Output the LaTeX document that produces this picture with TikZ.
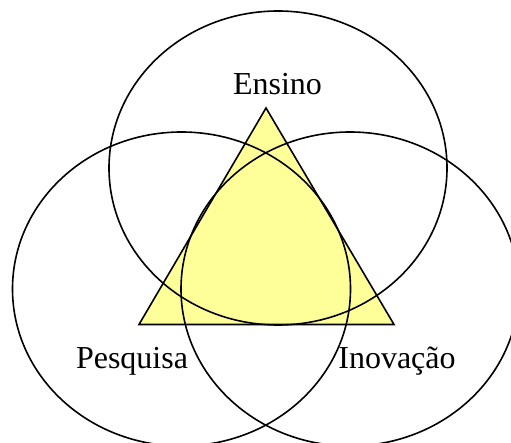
\documentclass[tikz,border=0pt]{standalone}
\usepackage{fontspec}
\setmainfont{Liberation Serif}
\definecolor{triyellow}{RGB}{255,255,153}
\begin{document}
\begin{tikzpicture}[x=1pt,y=-1pt,
  ring/.style={draw=black,line width=1.6pt},
  tri/.style={draw=black,fill=triyellow,line width=1.6pt,line join=miter},
  lbl/.style={anchor=base,inner sep=0pt,font=\fontsize{32}{37}\selectfont}]
\useasboundingbox (0,0) rectangle (511,443);
\clip (0,0) rectangle (511,443);
\coordinate (apex) at (266,108);
\coordinate (bl) at (139,324.5);
\coordinate (br) at (394,324.5);
\filldraw[tri] (apex) -- (bl) -- (br) -- cycle;
\draw[ring] (278,168) ellipse [x radius=169, y radius=157];
\draw[ring] (181.5,289) ellipse [x radius=169, y radius=157];
\draw[ring] (350,289) ellipse [x radius=169, y radius=157];
\node[lbl] (ensino) at (277.5,95) {Ensino};
\node[lbl] (pesquisa) at (132,368) {Pesquisa};
\node[lbl] (inovacao) at (397,368) {Inovação};
\end{tikzpicture}
\end{document}
